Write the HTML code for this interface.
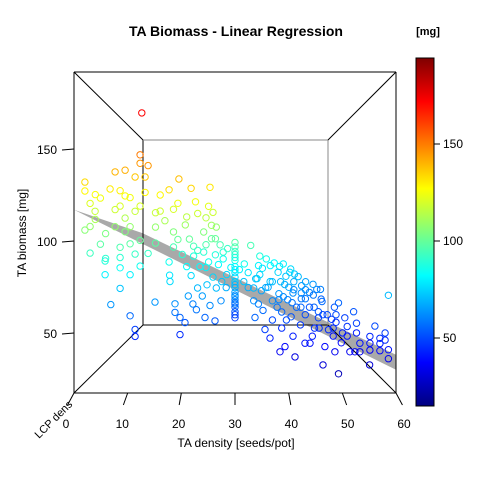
<!DOCTYPE html>
<html><head><meta charset="utf-8"><style>
html,body{margin:0;padding:0;background:#fff;}
svg{display:block;font-family:"Liberation Sans",sans-serif;}
</style></head><body>
<svg id="chart" width="480" height="480" viewBox="0 0 480 480">
<defs><linearGradient id="jet" x1="0" y1="1" x2="0" y2="0">
<stop offset="0" stop-color="#00007F"/><stop offset="0.125" stop-color="#0000FF"/><stop offset="0.25" stop-color="#007FFF"/><stop offset="0.375" stop-color="#00FFFF"/><stop offset="0.5" stop-color="#7FFF7F"/><stop offset="0.625" stop-color="#FFFF00"/><stop offset="0.75" stop-color="#FF7F00"/><stop offset="0.875" stop-color="#FF0000"/><stop offset="1" stop-color="#7F0000"/>
</linearGradient>
<clipPath id="boxclip"><rect x="74" y="72" width="322" height="321"/></clipPath></defs>
<text x="236" y="36" text-anchor="middle" font-size="14" font-weight="bold">TA Biomass - Linear Regression</text>
<text x="428" y="35" text-anchor="middle" font-size="11" font-weight="bold">[mg]</text>
<text x="236" y="447" text-anchor="middle" font-size="12">TA density [seeds/pot]</text>
<text transform="translate(26,233) rotate(-90)" text-anchor="middle" font-size="12">TA biomass [mg]</text>
<text transform="translate(56,422) rotate(-45)" text-anchor="middle" font-size="11">LCP dens</text>
<g id="plane" clip-path="url(#boxclip)"></g>
<g id="box" fill="none" stroke-width="1"></g>
<g id="pts"></g>
<g id="axes"></g>
<rect x="416" y="58" width="18" height="348" fill="url(#jet)" stroke="#000"/>
<g id="cbticks"></g>
</svg>
<script>
const density=[1,1,2,2,1,2,4,4,4,5,6,6,7,7,7,7,7,7,8,8,8,9,9,9,10,10,10,10,11,11,11,11,12,12,12,12,13,13,
14,15,16,16,17,18,18,19,20,20,20,21,22,22,23,24,25,25,25,26,26,17,18,18,19,19,20,21,22,23,24,25,26,27,26,14,15,16,24,28,27,
30,30,30,30,30,30,30,30,30,30,30,30,30,30,30,30,
31,32,33,34,34,35,35,36,36,37,37,38,38,39,39,40,40,40,41,41,42,42,42,43,43,44,44,45,45,46,46,47,47,47,48,48,49,49,50,50,50,51,51,52,52,53,53,54,54,55,55,56,57,57,58,58,59,59,59,46,44,42,40,38,36,34,36,
35,36,37,38,39,40,41,42,43,44,45,45,46,47,48,48,49,50,51,51,52,53,53,54,55,55,56,56,57,58,58,59,59,57,54,52,50,48,46,44,42,40,38,36,34,33,32,39,41,43,45,47,49,51,53,
30,30,30,30,30,30,30,
18,19,20,21,22,23,24,25,26,27,28,29,16,17,15,14,19,21,23,24,25,20,22,24,27,28,
2,3,4,5,6,3,5,8,9,10,11,12,13,6,9];
const biomass=[133,128,121,117,106,93,88,80,124,130,140,64,129,120,96,90,84,72,141,126,113,125,80,56,137,117,48,44,150,145,100,120,137,172,145,128,117,108,
128,133,120,105,124,138,110,100,134,95,88,118,105,90,80,110,131,100,88,108,95,76,63,58,55,45,52,60,70,65,55,62,70,72,53,64,85,78,85,92,85,
98,95,90,86,82,78,75,72,68,65,62,60,58,55,52,48,
80,85,78,70,55,74,60,66,48,68,43,62,72,58,35,64,55,45,70,50,60,52,32,66,58,47,55,62,40,50,58,65,45,30,55,52,48,60,44,58,25,50,40,47,55,42,35,46,52,40,48,30,36,44,45,38,40,35,70,72,75,78,82,85,88,95,80,
72,75,78,66,70,60,62,68,72,62,55,68,62,58,62,45,52,50,56,45,60,50,45,40,55,35,42,48,52,50,42,48,44,40,35,38,35,38,42,40,42,38,50,56,62,68,72,80,75,80,76,70,66,64,60,
92,88,80,70,63,57,50,
90,82,76,92,82,96,100,75,82,90,75,80,95,100,112,118,115,125,115,122,118,65,58,72,62,68,
108,112,98,104,118,126,90,105,98,92,85,92,98,108,108];
const lcp=[.05,.05,.05,.1,.05,.05,.1,.1,.05,.1,.1,.05,.1,.1,.1,.1,.1,.1,.1,.1,.1,.1,.1,.1,.1,.1,.1,.1,.1,.1,.1,.1,.1,.05,.15,.1,.2,.2,
.2,.3,.3,.3,.3,.2,.4,.4,.3,.4,.4,.4,.5,.5,.4,.5,.1,.5,.5,.2,.6,.1,.1,.1,.1,.1,.1,.2,.2,.2,.1,.1,.2,.3,.1,.1,.3,.2,.3,.6,.5,
.3,.3,.3,.3,.3,.3,.3,.3,.3,.3,.3,.3,.3,.3,.3,.3,
.3,.2,.3,.2,.1,.3,.2,.3,.1,.3,.1,.2,.3,.2,.1,.3,.2,.2,.4,.2,.3,.2,.1,.4,.3,.2,.3,.5,.1,.3,.4,.5,.2,.05,.3,.4,.3,.5,.2,.5,.05,.3,.2,.3,.5,.2,.1,.2,.4,.1,.3,.05,.1,.1,.05,.05,.02,.02,.02,.6,.5,.6,.5,.5,.4,.5,.5,
.4,.4,.5,.4,.4,.3,.3,.4,.5,.4,.3,.5,.4,.4,.5,.2,.3,.3,.4,.2,.6,.3,.3,.2,.4,.1,.2,.2,.3,.1,.05,.05,.05,.1,.1,.15,.1,.1,.15,.1,.15,.1,.2,.2,.2,.3,.3,.5,.5,.6,.6,.6,.6,.6,.6,
.3,.3,.3,.3,.3,.3,.3,
.3,.3,.3,.4,.3,.4,.5,.3,.4,.5,.4,.4,.3,.3,.2,.2,.3,.3,.4,.3,.3,.2,.15,.2,.2,.3,
.05,.05,.05,.05,.1,.05,.05,.1,.1,.1,.1,.15,.2,.1,.1];
const xTicks=[0,10,20,30,40,50,60];
const zTicks=[50,100,150];
const cbTicks=[50,100,150];
const planeFront=[117,-1.45];
const planeBack=[104,-1.40];

const NS="http://www.w3.org/2000/svg";
const FX0=74,FX1=396,FY0=72,FY1=393,CX=235,CY=232.5,K=0.74;
const fx=d=>FX0+(d-0)/60*(FX1-FX0);
const fz=b=>333-(b-50)*1.84;
function proj(d,b,l){const s=1/(1+K*l);return [CX+(fx(d)-CX)*s,CY+(fz(b)-CY)*s];}
const stops=[[0,0,0,127],[.125,0,0,255],[.25,0,127,255],[.375,0,255,255],[.5,127,255,127],[.625,255,255,0],[.75,255,127,0],[.875,255,0,0],[1,127,0,0]];
function jet(t){t=Math.max(0,Math.min(1,t));for(let i=1;i<stops.length;i++){if(t<=stops[i][0]){const a=stops[i-1],c=stops[i],f=(t-a[0])/(c[0]-a[0]);return `rgb(${[1,2,3].map(k=>Math.round(a[k]+(c[k]-a[k])*f)).join(',')})`;}}return 'rgb(127,0,0)';}
function mk(tag,attrs,parent){const e=document.createElementNS(NS,tag);for(const k in attrs)e.setAttribute(k,attrs[k]);parent.appendChild(e);return e;}

// plane (extends past box, clipped to the front face)
const pb=(d,l)=>{const f=planeFront[0]+planeFront[1]*d,b=planeBack[0]+planeBack[1]*d;return f+(b-f)*l;};
const dMax=82;
const corners=[[0,0],[dMax,0],[dMax,1],[0,1]].map(([d,l])=>proj(d,pb(d,l),l));
const poly=mk('polygon',{points:corners.map(p=>p.join(',')).join(' '),fill:'#a9a9a9',stroke:'none'},document.getElementById('plane'));



// box
const box=document.getElementById('box');
const iX0=143,iX1=328,iY0=140,iY1=325;
const lines=[[FX0,FY0,FX1,FY0,'#000'],[FX1,FY0,FX1,FY1,'#000'],[FX1,FY1,FX0,FY1,'#000'],[FX0,FY1,FX0,FY0,'#000'],
[iX0,iY0,iX0,iY1,'#000'],[iX0,iY1,iX1,iY1,'#000'],[iX0,iY0,iX1,iY0,'#888'],[iX1,iY0,iX1,iY1,'#888'],
[FX0,FY0,iX0,iY0,'#000'],[FX1,FY0,iX1,iY0,'#000'],[FX1,FY1,iX1,iY1,'#000'],[FX0,FY1,iX0,iY1,'#000']];
lines.forEach(l=>{const e=mk('line',{x1:l[0],y1:l[1],x2:l[2],y2:l[3],stroke:l[4]},box);

});

// points
const pts=document.getElementById('pts');
for(let i=0;i<density.length;i++){const [x,y]=proj(density[i],biomass[i],lcp[i]);
const c=mk('circle',{cx:x.toFixed(1),cy:y.toFixed(1),r:3.2,fill:'none',stroke:jet((biomass[i]-15)/(194-15)),'stroke-width':1},pts);

}

// axes
const ax=document.getElementById('axes');
xTicks.forEach(v=>{const x=fx(v);const dx=(x-CX)*0.04;
const t=mk('line',{x1:x,y1:FY1,x2:x+dx,y2:FY1+12,stroke:'#000'},ax);


const lb=mk('text',{x:x+(x-CX)*0.05,y:428,'text-anchor':'middle','font-size':12},ax);lb.textContent=v;

});
zTicks.forEach(v=>{const y=fz(v);
const t=mk('line',{x1:FX0,y1:y,x2:62,y2:y+1,stroke:'#000'},ax);


const lb=mk('text',{x:57,y:y+5,'text-anchor':'end','font-size':12},ax);lb.textContent=v;

});
const cb=document.getElementById('cbticks');
cbTicks.forEach(v=>{const y=241-(v-100)*1.94;
const t=mk('line',{x1:434,y1:y,x2:440,y2:y,stroke:'#000'},cb);


const lb=mk('text',{x:443,y:y+4,'font-size':12},cb);lb.textContent=v;

});
</script>
</body></html>
